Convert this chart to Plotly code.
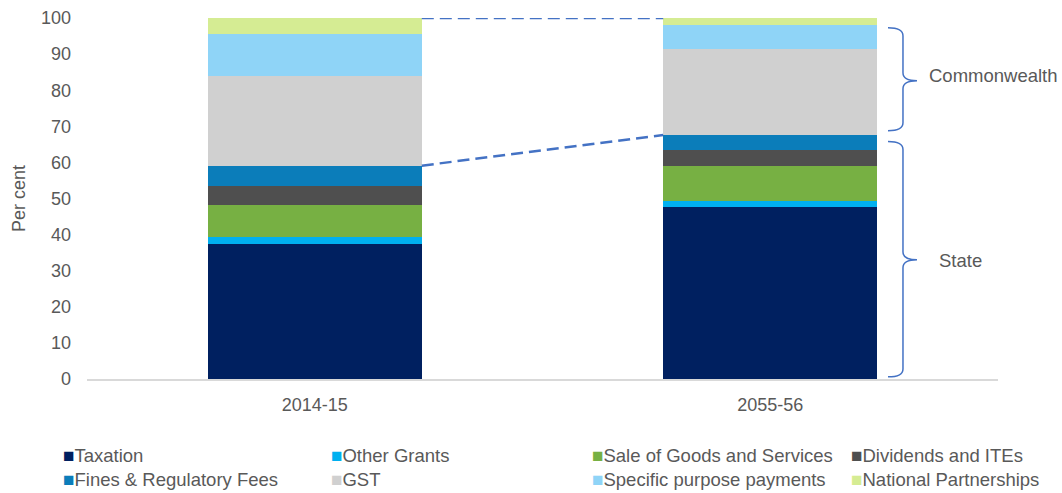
import plotly.graph_objects as go

# Share of state revenue by source (per cent)
years = ["2014-15", "2055-56"]
sources = [
    "Taxation",
    "Other Grants",
    "Sale of Goods and Services",
    "Dividends and ITEs",
    "Fines & Regulatory Fees",
    "GST",
    "Specific purpose payments",
    "National Partnerships",
]
taxation = [37.4, 47.7]
other_grants = [1.8, 1.5]
sale_goods_services = [8.9, 9.9]
dividends_ites = [5.3, 4.2]
fines_fees = [5.7, 4.3]
gst = [24.8, 23.8]
specific_purpose = [11.8, 6.6]
national_partnerships = [4.3, 2.0]

series = [taxation, other_grants, sale_goods_services, dividends_ites,
          fines_fees, gst, specific_purpose, national_partnerships]
colors = ["#002060", "#00B0F0", "#77B043", "#4F4F4F",
          "#0B7DBA", "#D0D0D0", "#8FD4F7", "#D5EC93"]

# Number of own-source (state) categories, the rest are Commonwealth
n_state = 5

FONT = "Liberation Sans, Arial, sans-serif"
GREY = "#595959"
BRACE = "#4472C4"
BAR_W = 0.47

x_pos = list(range(len(years)))

fig = go.Figure()
for name, vals, col in zip(sources, series, colors):
    fig.add_trace(go.Bar(
        x=x_pos, y=vals, name=name, width=BAR_W,
        marker=dict(color=col, line=dict(width=0)),
        showlegend=False,
    ))

# Dashed connectors between the two bars: total and state share
state_totals = [sum(s[i] for s in series[:n_state]) for i in range(len(years))]
grand_totals = [sum(s[i] for s in series) for i in range(len(years))]
x_link = [x_pos[0] + BAR_W / 2, x_pos[1] - BAR_W / 2]
for ys in (grand_totals, state_totals):
    fig.add_trace(go.Scatter(
        x=x_link, y=ys, mode="lines", cliponaxis=False,
        line=dict(color=BRACE, width=2.5, dash="12px,6px"),
        showlegend=False, hoverinfo="skip",
    ))


def brace_path(x_tip, x_v, x_mid, top, mid, bottom, r=2.2):
    return (f"M{x_tip},{top} Q{x_v},{top} {x_v},{top - r} "
            f"L{x_v},{mid + r} Q{x_v},{mid} {x_mid},{mid} "
            f"Q{x_v},{mid} {x_v},{mid - r} "
            f"L{x_v},{bottom + r} Q{x_v},{bottom} {x_tip},{bottom}")


shapes = [
    dict(type="path", xref="x", yref="y",
         path=brace_path(1.2585, 1.2914, 1.3222, 97.3, 82.6, 68.8),
         line=dict(color=BRACE, width=1.5)),
    dict(type="path", xref="x", yref="y",
         path=brace_path(1.2585, 1.2914, 1.3222, 65.8, 33.0, 0.6),
         line=dict(color=BRACE, width=1.5)),
]

annotations = [
    dict(x=1.344, y=84.0, xref="x", yref="y", text="Commonwealth",
         showarrow=False, xanchor="left", yanchor="middle",
         font=dict(family=FONT, size=18.5, color=GREY)),
    dict(x=1.366, y=32.8, xref="x", yref="y", text="State",
         showarrow=False, xanchor="left", yanchor="middle",
         font=dict(family=FONT, size=18.5, color=GREY)),
]

# Legend laid out as a 4 x 2 grid
legend_cols = [-0.0285, 0.2655, 0.552, 0.8365]
legend_rows = [-0.212, -0.279]
for i, (name, col) in enumerate(zip(sources, colors)):
    r, c = divmod(i, 4)
    annotations.append(dict(
        x=legend_cols[c], y=legend_rows[r], xref="paper", yref="paper",
        text=f"<span style='color:{col};font-size:19px'>■</span>{name}",
        showarrow=False, xanchor="left", yanchor="middle",
        font=dict(family=FONT, size=18.5, color=GREY),
    ))

fig.update_layout(
    width=1062, height=493,
    margin=dict(l=87, r=64, t=18, b=114),
    paper_bgcolor="white", plot_bgcolor="white",
    barmode="stack", bargap=0,
    font=dict(family=FONT, size=18, color=GREY),
    shapes=shapes, annotations=annotations,
    showlegend=False,
)
fig.update_xaxes(
    range=[-0.5, 1.5], tickvals=x_pos, ticktext=years,
    showgrid=False, zeroline=False,
    showline=True, linecolor="#D9D9D9", linewidth=2,
    ticks="", ticklabelstandoff=8,
    tickfont=dict(family=FONT, size=18, color=GREY),
    automargin=False,
)
fig.update_yaxes(
    range=[0, 100], dtick=10, showgrid=False, zeroline=False,
    showline=False, ticks="", ticklabelstandoff=15,
    tickfont=dict(family=FONT, size=18, color=GREY),
    title=dict(text="Per cent", standoff=10,
               font=dict(family=FONT, size=18, color=GREY)),
    automargin=False,
)

fig.write_html("out.html")
